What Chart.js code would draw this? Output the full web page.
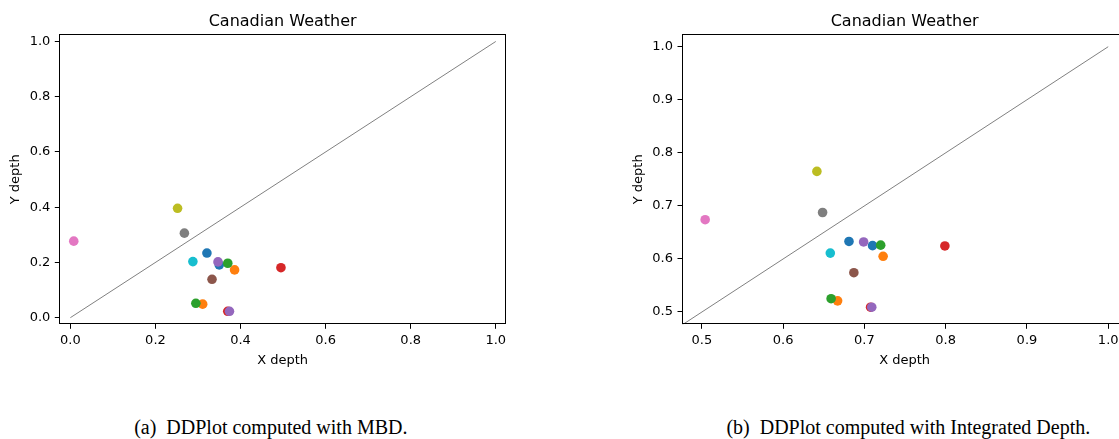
<!DOCTYPE html>
<html>
<head>
<meta charset="utf-8">
<script src="https://cdn.jsdelivr.net/npm/chart.js@4.4.1/dist/chart.umd.min.js"></script>
<style>
  html, body { margin: 0; padding: 0; background: #fff; overflow: hidden; width: 1119px; height: 439px; }
  canvas { position: absolute; top: 0; }
  #mbdCanvas { left: 0; }
  #idCanvas { left: 560px; }
  .caption {
    position: absolute; top: 416.5px; line-height: 20px;
    font-family: 'Liberation Serif', 'Times New Roman', serif; font-size: 20px;
    color: #000; white-space: pre; transform: translateX(-50%);
  }
</style>
</head>
<body>
<canvas id="mbdCanvas" width="560" height="380"></canvas>
<canvas id="idCanvas" width="580" height="380"></canvas>
<div class="caption" style="left:270.8px">(a)  DDPlot computed with MBD.</div>
<div class="caption" style="left:908.3px">(b)  DDPlot computed with Integrated Depth.</div>
<script>
// Depth of each curve in sample X (horizontal) and sample Y (vertical)
const mbdX = [0.350, 0.386, 0.370, 0.370, 0.374, 0.333, 0.008, 0.268, 0.252, 0.288, 0.321, 0.311, 0.295, 0.495, 0.347];
const mbdY = [0.191, 0.173, 0.197, 0.023, 0.023, 0.139, 0.277, 0.306, 0.396, 0.203, 0.234, 0.049, 0.052, 0.181, 0.202];
const idX  = [0.710, 0.723, 0.720, 0.7076, 0.709, 0.687, 0.504, 0.6485, 0.6415, 0.658, 0.681, 0.667, 0.659, 0.799, 0.699];
const idY  = [0.625, 0.605, 0.626, 0.509, 0.509, 0.574, 0.674, 0.6875, 0.765, 0.611, 0.633, 0.521, 0.525, 0.6245, 0.632];

// Reference line y = x
const diagonal = [{x: 0, y: 0}, {x: 1, y: 1}];

// Tick values
const mbdTicks = [0.0, 0.2, 0.4, 0.6, 0.8, 1.0];
const idTicks  = [0.5, 0.6, 0.7, 0.8, 0.9, 1.0];

const tab10 = ['#1f77b4', '#ff7f0e', '#2ca02c', '#d62728', '#9467bd',
               '#8c564b', '#e377c2', '#7f7f7f', '#bcbd22', '#17becf'];

Chart.defaults.font.family = "'DejaVu Sans', sans-serif";
Chart.defaults.font.size = 13;
Chart.defaults.color = '#000';

// Box around the plotting area
const framePlugin = {
  id: 'frame',
  afterDatasetsDraw(chart) {
    const a = chart.chartArea, ctx = chart.ctx;
    ctx.save();
    ctx.strokeStyle = '#000';
    ctx.lineWidth = 1;
    const l = Math.round(a.left) + 0.5, t = Math.round(a.top) + 0.5;
    const r = Math.round(a.right) - 0.5, b = Math.round(a.bottom) - 0.5;
    ctx.strokeRect(l, t, r - l, b - t);
    ctx.restore();
  }
};

function makeAxis(opts) {
  return {
    type: 'linear',
    position: opts.position,
    min: opts.min,
    max: opts.max,
    afterBuildTicks: s => { s.ticks = opts.ticks.map(v => ({value: v})); },
    afterFit: s => { if (opts.width !== undefined) s.width = opts.width; if (opts.height !== undefined) s.height = opts.height; },
    grid: { drawOnChartArea: false, drawTicks: true, tickLength: 4.5, tickColor: '#000', tickWidth: 1 },
    border: { display: false },
    ticks: { padding: 4.5, color: '#000', font: { size: 13 }, maxRotation: 0, autoSkip: false,
             callback: v => Number(v).toFixed(1) },
    title: { display: true, text: opts.title, color: '#000', font: { size: 13 }, padding: opts.titlePad }
  };
}

function buildChart(canvasId, xs, ys, cfg) {
  const pts = xs.map((x, i) => ({x: x, y: ys[i]}));
  return new Chart(document.getElementById(canvasId), {
    type: 'scatter',
    data: {
      datasets: [
        {
          label: 'y = x',
          data: diagonal,
          showLine: true,
          borderColor: '#808080',
          borderWidth: 1,
          pointRadius: 0,
          order: 2
        },
        {
          label: 'depth',
          data: pts,
          backgroundColor: pts.map((_, i) => tab10[i % 10]),
          borderWidth: 0,
          pointRadius: 4.8,
          pointHoverRadius: 4.8,
          order: 1
        }
      ]
    },
    options: {
      responsive: false,
      animation: false,
      devicePixelRatio: 1,
      layout: { padding: { left: 0, right: cfg.padRight, top: 0, bottom: 0 } },
      plugins: {
        legend: { display: false },
        tooltip: { enabled: false },
        title: {
          display: true, text: 'Canadian Weather', color: '#000', fullSize: false,
          font: { size: 16, weight: 'normal' }, padding: { top: 12, bottom: 3.1 }
        }
      },
      scales: {
        x: makeAxis({ position: 'bottom', min: cfg.xMin, max: cfg.xMax, ticks: cfg.ticks,
                      height: 55.7, title: 'X depth', titlePad: { top: 0, bottom: 11.2 } }),
        y: makeAxis({ position: 'left', min: cfg.yMin, max: cfg.yMax, ticks: cfg.ticks,
                      width: cfg.yWidth, title: 'Y depth', titlePad: { top: cfg.yTitlePad, bottom: 0 } })
      }
    },
    plugins: [framePlugin]
  });
}

buildChart('mbdCanvas', mbdX, mbdY, {
  xMin: -0.026, xMax: 1.024, yMin: -0.024, yMax: 1.026,
  ticks: mbdTicks, padRight: 54, yWidth: 59.3, yTitlePad: 8.2
});

buildChart('idCanvas', idX, idY, {
  xMin: 0.4755, xMax: 1.0235, yMin: 0.4768, yMax: 1.0234,
  ticks: idTicks, padRight: 12.7, yWidth: 122, yTitlePad: 71.2
});
</script>
</body>
</html>
